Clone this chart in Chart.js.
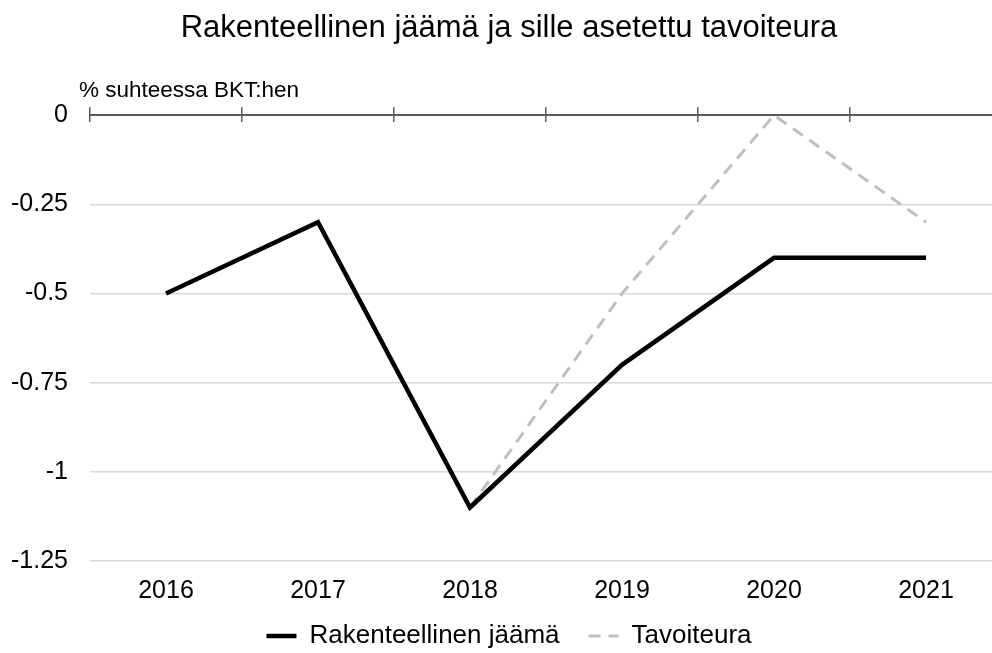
<!DOCTYPE html>
<html>
<head>
<meta charset="utf-8">
<script src="https://cdn.jsdelivr.net/npm/chart.js@4"></script>
<style>
  html, body { margin: 0; padding: 0; background: #fff; overflow: hidden; }
  #wrap { width: 1016px; height: 660px; }
</style>
</head>
<body>
<div id="wrap"><canvas id="chart"></canvas></div>
<script>
var vuodet = ['2016', '2017', '2018', '2019', '2020', '2021'];
var jaama = [-0.5, -0.3, -1.1, -0.7, -0.4, -0.4];
var tavoite = [null, null, -1.1, -0.5, 0, -0.3];
var yMin = -1.25;
var yMax = 0;
var yStep = 0.25;

// yksikköteksti akselin yläpuolelle
var yksikko = {
  id: 'yksikko',
  afterDraw: function(chart) {
    var ctx = chart.ctx;
    ctx.save();
    ctx.font = '22.5px "Liberation Sans", Arial, sans-serif';
    ctx.fillStyle = '#000';
    ctx.textBaseline = 'alphabetic';
    ctx.fillText('% suhteessa BKT:hen', chart.chartArea.left - 11, chart.chartArea.top - 18);
    ctx.restore();
  }
};

// otsikko ja selite hieman oikealle kuten mallissa
var siirto = {
  id: 'siirto',
  afterLayout: function(chart) {
    [chart.titleBlock, chart.legend].forEach(function(b) {
      if (b) { b.left += 8; b.right += 8; }
    });
  }
};

Chart.defaults.font.family = '"Liberation Sans", Arial, sans-serif';
Chart.defaults.color = '#000';

var ctx = document.getElementById('chart').getContext('2d');
var myChart = new Chart(ctx, {
  type: 'line',
  data: {
    labels: vuodet,
    datasets: [{
      label: 'Rakenteellinen jäämä',
      data: jaama,
      borderColor: '#000000',
      backgroundColor: '#000000',
      borderWidth: 4.5,
      pointRadius: 0,
      tension: 0
    }, {
      label: 'Tavoiteura',
      data: tavoite,
      borderColor: '#bfbfbf',
      backgroundColor: '#bfbfbf',
      borderWidth: 3,
      borderDash: [12, 8],
      pointRadius: 0,
      tension: 0
    }]
  },
  options: {
    responsive: true,
    maintainAspectRatio: false,
    animation: false,
    layout: { padding: { left: 0, right: 14, top: 0, bottom: 1 } },
    plugins: {
      title: {
        display: true,
        text: 'Rakenteellinen jäämä ja sille asetettu tavoiteura',
        font: { size: 31, weight: 'normal' },
        color: '#000',
        padding: { top: 10, bottom: 60 }
      },
      legend: {
        position: 'bottom',
        // tyhjä otsikko antaa tilaa vuosiluvuille
        title: { display: true, text: '', font: { size: 10, lineHeight: 1 }, padding: { top: 23, bottom: 0 } },
        labels: {
          usePointStyle: true,
          pointStyle: 'line',
          pointStyleWidth: 30,
          boxWidth: 30,
          font: { size: 26 },
          color: '#000',
          padding: 29,
          generateLabels: function(chart) {
            var items = Chart.defaults.plugins.legend.labels.generateLabels(chart);
            items.forEach(function(it) {
              var ds = chart.data.datasets[it.datasetIndex];
              it.lineDash = ds.borderDash || [];
              it.lineWidth = ds.borderWidth;
              it.strokeStyle = ds.borderColor;
              it.fillStyle = ds.borderColor;
            });
            return items;
          }
        }
      },
      tooltip: { enabled: false }
    },
    scales: {
      x: {
        position: { y: yMin },
        offset: true,
        grid: { display: false, drawTicks: false },
        border: { display: false },
        ticks: { font: { size: 25 }, padding: 15, maxRotation: 0 }
      },
      xTop: {
        type: 'category',
        position: 'top',
        offset: true,
        grid: { offset: true, drawOnChartArea: false, tickLength: 8, color: '#595959', lineWidth: 1.5 },
        border: { display: true, color: '#595959', width: 2 },
        ticks: { display: false }
      },
      xZero: {
        type: 'category',
        position: { y: 0 },
        offset: true,
        grid: { offset: true, drawOnChartArea: false, tickLength: 7, color: '#595959', lineWidth: 1.5 },
        border: { display: false },
        ticks: { display: false }
      },
      y: {
        min: yMin,
        max: yMax,
        grid: { color: '#d9d9d9', lineWidth: 1.5, drawTicks: false },
        border: { display: false },
        afterFit: function(scale) { scale.width = 90; },
        ticks: {
          stepSize: yStep,
          padding: 22,
          font: { size: 25 },
          callback: function(v) { return String(v); }
        }
      }
    }
  },
  plugins: [yksikko, siirto]
});
</script>
</body>
</html>
